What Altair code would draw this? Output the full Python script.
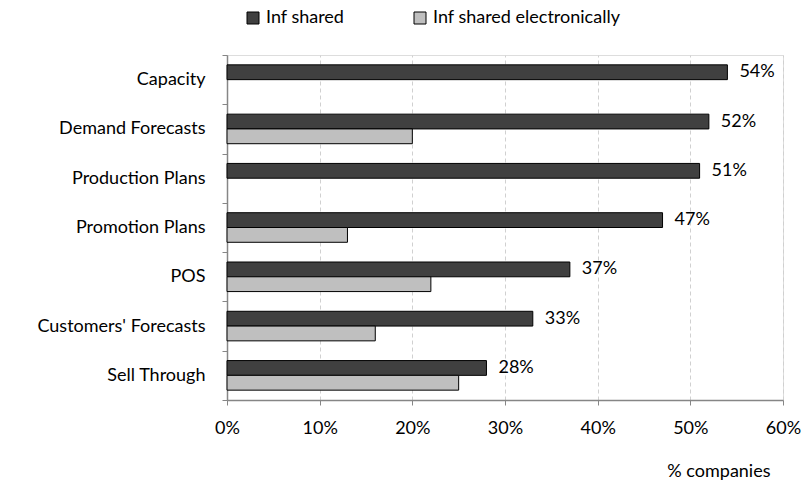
import altair as alt
import pandas as pd

# Share of companies exchanging each kind of information with partners
categories = [
    "Capacity",
    "Demand Forecasts",
    "Production Plans",
    "Promotion Plans",
    "POS",
    "Customers' Forecasts",
    "Sell Through",
]
inf_shared = [54, 52, 51, 47, 37, 33, 28]
inf_shared_electronic = [None, 20, None, 13, 22, 16, 25]
series_names = ["Inf shared", "Inf shared electronically"]
x_ticks = [0, 10, 20, 30, 40, 50, 60]

rows = []
for cat, a, b in zip(categories, inf_shared, inf_shared_electronic):
    rows.append({"category": cat, "series": series_names[0], "pct": a})
    if b is not None:
        rows.append({"category": cat, "series": series_names[1], "pct": b})
df = pd.DataFrame(rows)
df["value"] = df["pct"] / 100.0

FONT = "Lato"
FS = 18

y_enc = alt.Y(
    "category:N",
    sort=categories,
    scale=alt.Scale(paddingInner=0, paddingOuter=0),
    axis=alt.Axis(
        title=None,
        tickBand="extent",
        tickSize=5,
        tickColor="#868686",
        domainColor="#868686",
        domainWidth=1.5,
        labelFontSize=FS,
        labelColor="#000000",
        labelPadding=17,
        labelFont=FONT,
        labelLimit=300,
        grid=False,
    ),
)
y_off = alt.YOffset(
    "series:N",
    sort=series_names,
    scale=alt.Scale(paddingInner=0, paddingOuter=2 / 3),
)
x_enc = alt.X(
    "value:Q",
    scale=alt.Scale(domain=[0, 0.6], nice=False),
    axis=alt.Axis(
        values=[t / 100 for t in x_ticks],
        format=".0%",
        title="% companies",
        titleFont=FONT,
        titleFontSize=FS,
        titleFontWeight="normal",
        titleColor="#000000",
        titleAlign="right",
        titleBaseline="alphabetic",
        titleX=543,
        titleY=76,
        labelFont=FONT,
        labelFontSize=FS,
        labelColor="#000000",
        labelPadding=14,
        labelFlush=False,
        tickSize=5,
        tickColor="#868686",
        domainColor="#868686",
        domainWidth=1.5,
        grid=True,
        gridColor="#d0d0d0",
        gridDash=[4, 3],
    ),
)

bars = (
    alt.Chart(df)
    .mark_bar(stroke="#000000", strokeWidth=1)
    .encode(
        y=y_enc,
        yOffset=y_off,
        x=x_enc,
        color=alt.Color(
            "series:N",
            sort=series_names,
            scale=alt.Scale(domain=series_names, range=["#404040", "#bfbfbf"]),
            legend=alt.Legend(
                title=None,
                orient="none",
                direction="horizontal",
                legendX=17,
                legendY=-46,
                symbolType="square",
                symbolSize=144,
                symbolStrokeColor="#000000",
                symbolStrokeWidth=1,
                labelFont=FONT,
                labelFontSize=FS,
                labelColor="#000000",
                labelLimit=400,
                columnPadding=66,
                labelOffset=4,
            ),
        ),
    )
)

labels = (
    alt.Chart(df)
    .transform_filter(alt.datum.series == series_names[0])
    .mark_text(align="left", baseline="middle", dx=12, fontSize=FS, font=FONT, color="#000000")
    .encode(
        y=alt.Y("category:N", sort=categories),
        yOffset=alt.YOffset("series:N", sort=series_names),
        x=alt.X("value:Q"),
        text=alt.Text("value:Q", format=".0%"),
    )
)

chart = (
    alt.layer(bars, labels)
    .properties(
        width=556,
        height=345,
        autosize=alt.AutoSizeParams(type="none"),
        padding={"left": 227, "top": 55, "right": 24, "bottom": 85},
    )
    .configure_view(stroke=None)
    .configure(background="#ffffff")
)

chart.save("out.html", embed_options={"renderer": "svg", "actions": False})
